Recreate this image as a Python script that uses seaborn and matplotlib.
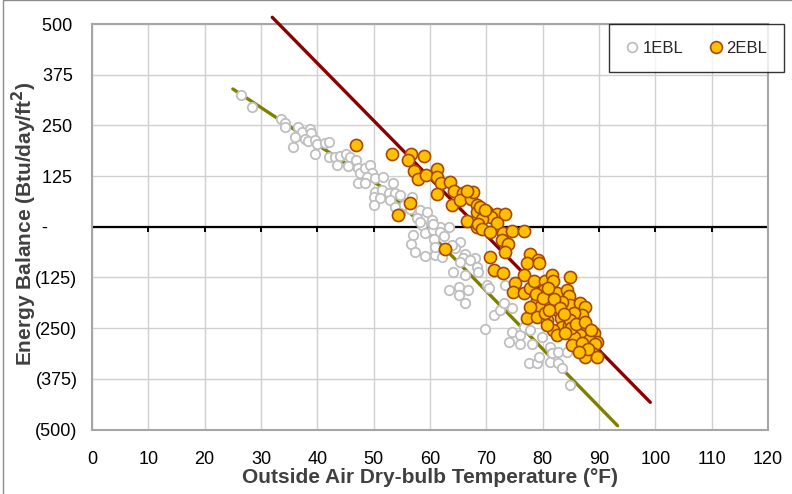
import numpy as np
import matplotlib
matplotlib.use("Agg")
import matplotlib.pyplot as plt
from matplotlib.lines import Line2D
from matplotlib.ticker import FuncFormatter, FixedLocator
import seaborn as sns

# 1EBL: outside air dry-bulb temperature (°F) vs. energy balance (Btu/day/ft²)
temp_1ebl = [26.5, 28.4, 33.6, 34.2, 34.2, 36.5, 37.2, 38.7, 38.9, 36.1, 35.6, 37.8, 38.3, 39.6, 39.9,
             41.4, 42.1, 39.5, 42.0, 43.2, 44.0, 45.1, 45.8, 43.5, 45.4, 46.8, 47.3, 47.6, 47.3,
             48.5, 49.4, 49.7, 48.8, 50.3, 51.7, 48.5, 53.5, 50.3, 51.5, 52.8, 53.8, 54.7, 50.0, 51.1,
             50.0, 52.9, 53.8, 55.3, 56.8, 56.5, 58.3, 59.4, 57.7, 58.6, 60.3, 60.6, 61.8, 63.3, 57.0, 59.1,
             65.4, 64.5, 66.3, 68.0,
             60.6, 61.8, 56.6, 57.4, 59.1, 60.9, 60.7, 60.9, 62.1, 63.9, 65.9, 65.4, 67.1, 68.3, 68.6,
             64.1, 66.3, 63.3, 65.1, 65.1, 66.8, 66.3, 70.1, 70.4, 71.3, 69.8,
             74.5, 74.1, 76.0, 76.0, 76.6, 77.8, 78.1, 77.5, 79.0, 79.3, 79.9, 81.3, 81.6, 81.3, 82.8,
             83.4, 82.8, 84.3, 84.9,
             72.5, 73.1, 54.7, 58.3, 60.6, 62.4, 73.4, 74.5]
bal_1ebl = [326, 296, 265, 257, 245, 245, 234, 240, 230, 221, 197, 216, 211, 214, 204,
            206, 209, 179, 173, 171, 175, 179, 173, 152, 150, 165, 144, 132, 107,
            144, 152, 132, 123, 119, 123, 107, 107, 86, 91, 84, 82, 78, 74, 70,
            54, 66, 49, 54, 74, 45, 41, 37, 21, 4, 17, 0, 0, 0, -20, -16,
            -37, -53, -66, -78,
            -8, -12, -43, -62, -71, -70, -30, -49, -74, -45, -76, -86, -82, -99, -111,
            -111, -119, -156, -148, -168, -156, -189, -144, -152, -218, -252,
            -259, -283, -267, -288, -246, -255, -288, -337, -337, -320, -271, -296, -312, -333, -337,
            -349, -308, -308, -390,
            -205, -189, 33, 12, 8, -24, -144, -201]

# 2EBL
temp_2ebl = [46.8, 53.2, 56.7, 56.1, 59.0, 57.1, 57.8, 59.3, 61.2, 61.2, 62.0, 63.6, 61.3, 64.3,
             65.8, 63.9, 65.4, 67.3, 68.3, 68.3, 66.5, 68.3, 56.5, 54.3,
             67.7, 68.8, 70.1, 71.9, 73.3, 70.8, 69.2, 71.9, 68.6, 69.2, 70.6, 73.0, 74.6, 76.6,
             72.8, 73.8, 73.3, 70.6, 77.8, 79.1,
             62.7, 71.3,
             73.0, 77.2, 79.3, 76.6, 75.1, 74.8, 76.6, 77.8, 78.4, 80.5, 81.6, 81.9, 84.9, 79.0,
             79.6, 81.3, 82.5, 82.5, 84.3, 84.6, 84.9, 86.7, 87.6, 77.2, 79.0, 80.8, 83.2, 83.4,
             84.6, 86.4, 87.0, 81.9, 82.5, 86.1, 87.9, 89.1, 89.6, 80.2, 80.5, 77.8, 83.4, 85.5,
             80.8, 84.9, 86.7, 88.2, 89.3, 87.3, 88.8, 87.6, 89.6, 86.1, 85.5,
             66.5, 69.8,
             78.8, 80.0, 81.0, 82.0, 83.0, 83.8, 81.2, 85.0, 86.0, 87.6, 88.5, 84.0, 85.2, 87.0,
             88.0, 86.5]
bal_2ebl = [201, 179, 179, 165, 174, 138, 117, 128, 142, 123, 109, 111, 81, 89,
            84, 54, 66, 68, 54, 37, 15, 0, 59, 29,
            86, 49, 37, 31, 31, 25, 18, 10, 7, -6, -12, -16, -10, -10,
            -33, -43, -62, -75, -66, -82,
            -55, -107,
            -115, -90, -90, -119, -138, -160, -164, -152, -135, -133, -119, -135, -125, -181,
            -197, -185, -164, -205, -156, -172, -193, -187, -197, -226, -222, -230, -226, -246,
            -242, -226, -218, -255, -267, -279, -250, -263, -283, -156, -213, -197, -185, -213,
            -242, -230, -267, -279, -288, -300, -312, -320, -320, -288, -271,
            89, 41,
            -165, -175, -150, -178, -200, -215, -205, -250, -240, -236, -255, -262, -292, -286,
            -302, -310]

# 1EBL change-point fit: two linear pieces (lower envelope) over the fitted range
fit_1ebl_slopes = [-9.15, -14.24]
fit_1ebl_intercepts = [568.5, 837.9]
fit_1ebl_range = [25.0, 93.3]

# 2EBL linear fit
fit_2ebl_slope = -14.15
fit_2ebl_intercept = 969.3
fit_2ebl_range = [32.0, 99.1]

x_ticks = list(range(0, 121, 10))
y_ticks = [-500, -375, -250, -125, 0, 125, 250, 375, 500]
series_names = ["1EBL", "2EBL"]

sns.set_theme(style="white")
plt.rcParams["font.family"] = ["Liberation Sans", "DejaVu Sans"]

W, H = 792, 494
fig = plt.figure(figsize=(W / 100, H / 100), dpi=100)
fig.patch.set_facecolor("white")
ax = fig.add_axes([92 / W, 1 - 429.5 / H, (768 - 92) / W, (429.5 - 24) / H])

olive = "#808000"
maroon = "#8B0000"
gray_edge = "#BFBFBF"
gold = "#FFC000"
gold_edge = "#A84800"

# fitted lines
bx = (fit_1ebl_intercepts[1] - fit_1ebl_intercepts[0]) / (fit_1ebl_slopes[0] - fit_1ebl_slopes[1])
x1 = np.array([fit_1ebl_range[0], bx, fit_1ebl_range[1]])
y1 = np.minimum(fit_1ebl_intercepts[0] + fit_1ebl_slopes[0] * x1,
                fit_1ebl_intercepts[1] + fit_1ebl_slopes[1] * x1)
sns.lineplot(x=x1, y=y1, ax=ax, color=olive, lw=2.4, estimator=None, sort=False, zorder=3)

x2 = np.array(fit_2ebl_range)
y2 = fit_2ebl_intercept + fit_2ebl_slope * x2
sns.lineplot(x=x2, y=y2, ax=ax, color=maroon, lw=2.4, estimator=None, sort=False,
             zorder=3, clip_on=False)

# zero line with downward tick marks
ax.axhline(0, color="black", lw=1.6, zorder=2.5)
ax.vlines(x_ticks, -12, 0, color="black", lw=1.4, zorder=2.5)

# observations
sns.scatterplot(x=temp_1ebl, y=bal_1ebl, ax=ax, s=46, color="white",
                edgecolor=gray_edge, linewidth=1.3, zorder=4)
sns.scatterplot(x=temp_2ebl, y=bal_2ebl, ax=ax, s=76, color=gold,
                edgecolor=gold_edge, linewidth=1.2, zorder=5)

ax.set_xlim(0, 120)
ax.set_ylim(-500, 500)
ax.xaxis.set_major_locator(FixedLocator(x_ticks))
ax.yaxis.set_major_locator(FixedLocator(y_ticks))


def acct(v, pos):
    if v == 0:
        return "-      "
    if v < 0:
        return f"({abs(v):.0f})"
    return f"{v:.0f} "


ax.yaxis.set_major_formatter(FuncFormatter(acct))
ax.grid(True, color="#D0D0D0", lw=1.0)
ax.set_axisbelow(True)
ax.tick_params(axis="both", length=0, labelsize=13, labelcolor="black")
ax.tick_params(axis="y", pad=10.5)
ax.tick_params(axis="x", pad=15.5)
for sp in ax.spines.values():
    sp.set_color("#A6A6A6")
    sp.set_linewidth(1.5)

ax.set_xlabel("Outside Air Dry-bulb Temperature (°F)", fontsize=15, fontweight="bold", color="#404040")
ax.set_ylabel("Energy Balance (Btu/day/ft$^\\mathbf{2}$)", fontsize=15, fontweight="bold", color="#404040")
ax.xaxis.set_label_coords(0.5, -0.094)
ax.yaxis.set_label_coords(-0.079, 0.507)

handles = [
    Line2D([], [], ls="none", marker="o", ms=7, mfc="white", mec=gray_edge, mew=1.3),
    Line2D([], [], ls="none", marker="o", ms=8.5, mfc=gold, mec=gold_edge, mew=1.2),
]
leg = fig.legend(handles, series_names, ncol=2, loc="upper right",
                 bbox_to_anchor=(784 / W, 1 - 24 / H), bbox_transform=fig.transFigure,
                 frameon=True, fancybox=False, edgecolor="black", fontsize=12,
                 handlelength=0.7, handletextpad=0.3, columnspacing=1.6,
                 borderpad=1.0, borderaxespad=0)
leg.get_frame().set_linewidth(1.0)

# chart-area border
fig.add_artist(Line2D([3 / W, 3 / W], [0, 1], transform=fig.transFigure, color="#8C8C8C", lw=1.0))
fig.add_artist(Line2D([3 / W, 1], [1 - 0.5 / H, 1 - 0.5 / H], transform=fig.transFigure,
                      color="#8C8C8C", lw=1.0))

fig.savefig("out.png", dpi=100, facecolor="white")
